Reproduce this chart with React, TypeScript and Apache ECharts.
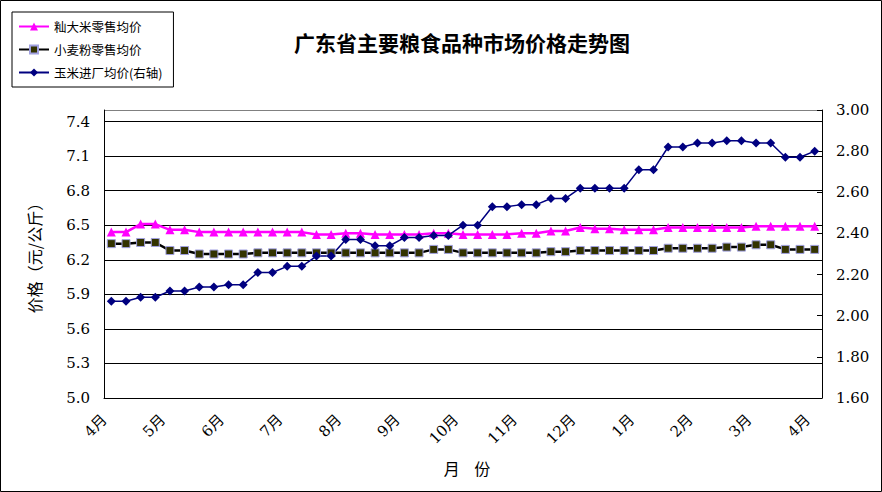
import React, { useEffect, useRef } from "react";
import * as echarts from "echarts";

const MONTHS = ["4月", "5月", "6月", "7月", "8月", "9月", "10月", "11月", "12月", "1月", "2月", "3月", "4月"];
const WEEKS_PER_MONTH = [4, 4, 4, 4, 4, 4, 4, 4, 4, 4, 4, 4, 1];
const CATEGORIES: string[] = MONTHS.flatMap((m, i) =>
  Array.from({ length: WEEKS_PER_MONTH[i] }, (_, w) => `${m}第${w + 1}周`)
);

const RICE = [
  6.44, 6.44, 6.51, 6.51, 6.46, 6.46, 6.44, 6.44, 6.44, 6.44,
  6.44, 6.44, 6.44, 6.44, 6.42, 6.42, 6.43, 6.43, 6.42, 6.42,
  6.42, 6.42, 6.43, 6.43, 6.42, 6.42, 6.42, 6.42, 6.43, 6.43,
  6.45, 6.45, 6.48, 6.47, 6.47, 6.46, 6.46, 6.46, 6.48, 6.48,
  6.48, 6.48, 6.48, 6.48, 6.49, 6.49, 6.49, 6.49, 6.49,
];

const FLOUR = [
  6.34, 6.34, 6.35, 6.35, 6.28, 6.28, 6.25, 6.25, 6.25, 6.25,
  6.26, 6.26, 6.26, 6.26, 6.26, 6.26, 6.26, 6.26, 6.26, 6.26,
  6.26, 6.26, 6.29, 6.29, 6.26, 6.26, 6.26, 6.26, 6.26, 6.26,
  6.27, 6.27, 6.28, 6.28, 6.28, 6.28, 6.28, 6.28, 6.30, 6.30,
  6.30, 6.30, 6.31, 6.31, 6.33, 6.33, 6.29, 6.29, 6.29,
];

const CORN = [
  2.07, 2.07, 2.09, 2.09, 2.12, 2.12, 2.14, 2.14, 2.15, 2.15,
  2.21, 2.21, 2.24, 2.24, 2.29, 2.29, 2.37, 2.37, 2.34, 2.34,
  2.38, 2.38, 2.39, 2.39, 2.44, 2.44, 2.53, 2.53, 2.54, 2.54,
  2.57, 2.57, 2.62, 2.62, 2.62, 2.62, 2.71, 2.71, 2.82, 2.82,
  2.84, 2.84, 2.85, 2.85, 2.84, 2.84, 2.77, 2.77, 2.80,
];

const SERIES_NAMES = ["籼大米零售均价", "小麦粉零售均价", "玉米进厂均价(右轴)"];

const NUM_FONT = "DejaVu Serif";
const CJK_FONT = "Noto Sans CJK SC";

export default function App() {
  const ref = useRef<HTMLDivElement>(null);

  useEffect(() => {
    document.body.style.margin = "0";
    if (!ref.current) return;
    const chart = echarts.init(ref.current, undefined, { renderer: "svg" });
    const splitColors = Array(9).fill("#000000").concat(["#808080"]);
    chart.setOption({
      animation: false,
      backgroundColor: "#ffffff",
      title: {
        text: "广东省主要粮食品种市场价格走势图",
        left: 289,
        top: 26,
        textStyle: { fontSize: 21, fontWeight: "bold", fontFamily: CJK_FONT, color: "#000" },
      },
      legend: {
        orient: "vertical",
        left: 12,
        top: 12,
        padding: [8, 11, 8, 6],
        borderColor: "#000",
        borderWidth: 1,
        itemWidth: 30,
        itemHeight: 10,
        itemGap: 10,
        textStyle: { fontSize: 12.5, fontFamily: CJK_FONT, color: "#000", lineHeight: 13 },
        data: SERIES_NAMES,
      },
      graphic: [
        {
          type: "rect",
          shape: { x: 0.5, y: 0.5, width: 881, height: 491 },
          style: { fill: "none", stroke: "#000", lineWidth: 1 },
          silent: true,
          z: 100,
        },
      ],
      grid: { left: 104, right: 60, top: 110, bottom: 94 },
      xAxis: {
        type: "category",
        data: CATEGORIES,
        boundaryGap: true,
        name: "月    份",
        nameLocation: "middle",
        nameGap: 62,
        nameTextStyle: { fontSize: 16, fontFamily: CJK_FONT, color: "#000", padding: [0, 0, 0, 8] },
        axisLine: { lineStyle: { color: "#000", width: 1 } },
        axisTick: { inside: true, length: 5, interval: 0, lineStyle: { color: "#000" } },
        axisLabel: {
          interval: 3,
          rotate: 45,
          margin: 12,
          padding: [0, 10, 0, 0],
          fontSize: 15,
          fontFamily: NUM_FONT + ", " + CJK_FONT,
          color: "#000",
          formatter: (v: string) => v.split("第")[0],
        },
        splitLine: { show: false },
      },
      yAxis: [
        {
          type: "value",
          min: 5.0,
          max: 7.5,
          interval: 0.3,
          name: "价格（元/公斤）",
          nameLocation: "middle",
          nameRotate: 90,
          nameGap: 62,
          nameTextStyle: { fontSize: 16, fontFamily: CJK_FONT, color: "#000" },
          axisLine: { show: true, lineStyle: { color: "#000" } },
          axisTick: { show: false },
          axisLabel: {
            margin: 14,
            fontSize: 15,
            fontFamily: NUM_FONT,
            color: "#000",
            showMaxLabel: false,
            formatter: (v: number) => v.toFixed(1),
          },
          splitLine: { show: true, lineStyle: { color: splitColors, width: 1 } },
        },
        {
          type: "value",
          min: 1.6,
          max: 3.0,
          interval: 0.2,
          position: "right",
          axisLine: { show: true, lineStyle: { color: "#000" } },
          axisTick: { show: true, inside: true, length: 5, lineStyle: { color: "#000" } },
          axisLabel: {
            margin: 14,
            fontSize: 15,
            fontFamily: NUM_FONT,
            color: "#000",
            formatter: (v: number) => v.toFixed(2),
          },
          splitLine: { show: false },
        },
      ],
      series: [
        {
          name: SERIES_NAMES[0],
          type: "line",
          yAxisIndex: 0,
          data: RICE,
          symbol: "triangle",
          symbolSize: 9,
          color: "#FF00FF",
          lineStyle: { color: "#FF00FF", width: 2.5 },
          itemStyle: { color: "#FF00FF" },
        },
        {
          name: SERIES_NAMES[1],
          type: "line",
          yAxisIndex: 0,
          data: FLOUR,
          symbol: "rect",
          symbolSize: 8,
          color: "#333300",
          lineStyle: { color: "#000000", width: 2.5 },
          itemStyle: { color: "#333300", borderColor: "#A0A0E0", borderWidth: 1 },
        },
        {
          name: SERIES_NAMES[2],
          type: "line",
          yAxisIndex: 1,
          data: CORN,
          symbol: "diamond",
          symbolSize: 9,
          color: "#000080",
          lineStyle: { color: "#000080", width: 1.5 },
          itemStyle: { color: "#000080" },
        },
      ],
    });
    return () => chart.dispose();
  }, []);

  return <div ref={ref} style={{ width: 882, height: 492 }} />;
}
